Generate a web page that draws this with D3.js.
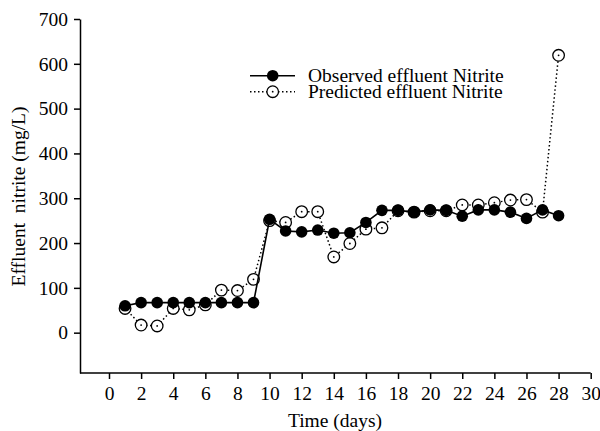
<!DOCTYPE html>
<html>
<head>
<meta charset="utf-8">
<script src="https://cdn.jsdelivr.net/npm/d3@7/dist/d3.min.js"></script>
<style>
  body { margin: 0; background: #fff; }
  text { font-family: "Liberation Serif", "Times New Roman", serif; fill: #000; }
  .axis text { font-size: 19.5px; }
  .axis path, .axis line { stroke: #000; stroke-width: 1.5px; }
</style>
</head>
<body>
<div id="vis"></div>
<script>
// days and the two nitrite series (mg/L)
var days = [1, 2, 3, 4, 5, 6, 7, 8, 9, 10, 11, 12, 13, 14, 15, 16, 17, 18, 19, 20, 21, 22, 23, 24, 25, 26, 27, 28];
var observed = [60, 67, 67, 67, 67, 67, 67, 67, 67, 253, 227, 225, 229, 222, 223, 246, 273, 273, 269, 274, 273, 260, 274, 274, 269, 255, 274, 261];
var predicted = [54, 17, 15, 54, 51, 62, 95, 94, 119, 250, 246, 270, 270, 169, 199, 231, 234, 272, 269, 272, 272, 285, 285, 290, 296, 297, 269, 619];
var xTicks = [0, 2, 4, 6, 8, 10, 12, 14, 16, 18, 20, 22, 24, 26, 28, 30];
var yTicks = [0, 100, 200, 300, 400, 500, 600, 700];
var legendLabels = ["Observed effluent Nitrite", "Predicted effluent Nitrite"];

var width = 600, height = 431;
var axisLeft = 80, axisBottom = 373;

var svg = d3.select("#vis").append("svg")
    .attr("width", width)
    .attr("height", height);

var xScale = d3.scaleLinear().domain([0, 30]).range([109, 590.7]);
var yScale = d3.scaleLinear().domain([-90, 700]).range([axisBottom, 19]);

// x axis: line starts at the y axis, ticks from scale
var xAxis = d3.axisBottom(xScale).tickValues(xTicks).tickSize(6).tickPadding(7);
var xg = svg.append("g")
    .attr("class", "axis")
    .attr("transform", "translate(0," + axisBottom + ")")
    .call(xAxis);
xg.select(".domain").remove();
xg.append("line")
    .attr("x1", axisLeft).attr("x2", xScale(30))
    .attr("y1", 0).attr("y2", 0);

var yAxis = d3.axisLeft(yScale).tickValues(yTicks).tickSize(6).tickSizeOuter(0).tickPadding(6);
svg.append("g")
    .attr("class", "axis")
    .attr("transform", "translate(" + axisLeft + ",0)")
    .call(yAxis);

// axis titles
svg.append("text")
    .attr("x", 335).attr("y", 427)
    .attr("text-anchor", "middle")
    .style("font-size", "19.5px")
    .text("Time (days)");

svg.append("text")
    .attr("transform", "translate(24.5,196.5) rotate(-90)")
    .attr("text-anchor", "middle")
    .style("font-size", "19.5px")
    .style("white-space", "pre")
    .text("Effluent  nitrite (mg/L)");

var obsData = days.map(function(d, i) { return {x: d, y: observed[i]}; });
var predData = days.map(function(d, i) { return {x: d, y: predicted[i]}; });

var line = d3.line()
    .x(function(d) { return xScale(d.x); })
    .y(function(d) { return yScale(d.y); });

// predicted first (dotted, open circles), observed on top
svg.append("path")
    .datum(predData)
    .attr("d", line)
    .attr("fill", "none")
    .attr("stroke", "#000")
    .attr("stroke-width", 1.5)
    .attr("stroke-dasharray", "1.5,2.5");

var pg = svg.append("g").selectAll("g").data(predData).enter().append("g")
    .attr("transform", function(d) { return "translate(" + xScale(d.x) + "," + yScale(d.y) + ")"; });
pg.append("circle").attr("r", 5.8).attr("fill", "#fff").attr("stroke", "#000").attr("stroke-width", 1.3);
pg.append("circle").attr("r", 0.9).attr("fill", "#000");

svg.append("path")
    .datum(obsData)
    .attr("d", line)
    .attr("fill", "none")
    .attr("stroke", "#000")
    .attr("stroke-width", 1.6);

svg.append("g").selectAll("circle").data(obsData).enter().append("circle")
    .attr("cx", function(d) { return xScale(d.x); })
    .attr("cy", function(d) { return yScale(d.y); })
    .attr("r", 5.8)
    .attr("fill", "#000");

// legend
var legend = svg.append("g");
var rows = legend.selectAll("g").data(legendLabels).enter().append("g")
    .attr("transform", function(d, i) { return "translate(0," + (75.7 + i * 16) + ")"; });
rows.append("line")
    .attr("x1", 250).attr("x2", 295)
    .attr("stroke", "#000")
    .attr("stroke-width", function(d, i) { return i === 0 ? 1.6 : 1.5; })
    .attr("stroke-dasharray", function(d, i) { return i === 0 ? null : "1.5,2.5"; });
rows.append("circle")
    .attr("cx", 272.7).attr("r", 5.8)
    .attr("fill", function(d, i) { return i === 0 ? "#000" : "#fff"; })
    .attr("stroke", "#000")
    .attr("stroke-width", function(d, i) { return i === 0 ? 0 : 1.3; });
rows.filter(function(d, i) { return i === 1; }).append("circle")
    .attr("cx", 272.7).attr("r", 0.9).attr("fill", "#000");
rows.append("text")
    .attr("x", 308).attr("y", 6)
    .style("font-size", "19.5px")
    .text(function(d) { return d; });
</script>
</body>
</html>
